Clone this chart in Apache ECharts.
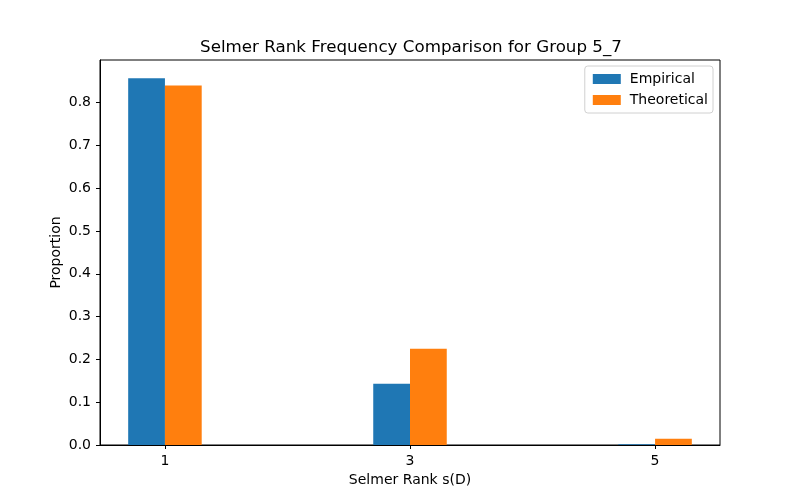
<!DOCTYPE html>
<html>
<head>
<meta charset="utf-8">
<script src="https://cdn.jsdelivr.net/npm/echarts@6/dist/echarts.min.js"></script>
<style>html,body{margin:0;padding:0;background:#fff}#c{width:800px;height:500px}</style>
</head>
<body>
<div id="c"></div>
<script>
const ranks = [1, 3, 5];
const empirical = [0.857, 0.143, 0.0015];
const theoretical = [0.84, 0.225, 0.0145];
const yTicks = [0, 0.1, 0.2, 0.3, 0.4, 0.5, 0.6, 0.7, 0.8];
const barW = 0.3;

const chart = echarts.init(document.getElementById('c'), null, {renderer: 'canvas'});
const font = 'DejaVu Sans';

function barRender(offset, color) {
  return function (params, api) {
    const x = api.value(0), y = api.value(1);
    const p0 = api.coord([x + offset, y]);
    const p1 = api.coord([x + offset + barW, 0]);
    return {
      type: 'rect',
      shape: {x: p0[0], y: p0[1], width: p1[0] - p0[0], height: p1[1] - p0[1]},
      style: {fill: color}
    };
  };
}

chart.setOption({
  animation: false,
  textStyle: {fontFamily: font},
  title: {
    text: 'Selmer Rank Frequency Comparison for Group 5_7',
    left: 406, top: 34, textAlign: 'center',
    textStyle: {fontFamily: font, fontSize: 16.7, fontWeight: 'normal', color: '#000'}
  },
  legend: {
    orient: 'vertical', right: 87, top: 66,
    padding: [6, 5, 6, 8], itemGap: 7, itemWidth: 28, itemHeight: 10,
    borderColor: '#d0d0d0', borderWidth: 1, borderRadius: 3,
    textStyle: {fontFamily: font, fontSize: 14, color: '#000', padding: [0, 0, 0, 4]},
    data: [{name: 'Empirical', icon: 'rect'}, {name: 'Theoretical', icon: 'rect'}]
  },
  grid: {left: 100, right: 80, top: 60, bottom: 55, show: true, borderColor: '#000', borderWidth: 1},
  xAxis: {
    type: 'value', min: 0.47, max: 5.53,
    name: 'Selmer Rank s(D)', nameLocation: 'middle', nameGap: 28,
    nameTextStyle: {fontFamily: font, fontSize: 14, color: '#000'},
    splitLine: {show: false},
    axisLine: {show: true, lineStyle: {color: '#000'}},
    axisTick: {show: true, inside: false, length: 4, lineStyle: {color: '#000'}, customValues: ranks},
    axisLabel: {fontFamily: font, fontSize: 14, color: '#000', margin: 9, customValues: ranks}
  },
  yAxis: {
    type: 'value', min: 0, max: 0.8998,
    name: 'Proportion', nameLocation: 'middle', nameGap: 37, nameRotate: 90,
    nameMoveOverlap: false,
    nameTextStyle: {fontFamily: font, fontSize: 14, color: '#000'},
    splitLine: {show: false},
    axisLine: {show: true, lineStyle: {color: '#000'}},
    axisTick: {show: true, inside: false, length: 4, lineStyle: {color: '#000'}, customValues: yTicks},
    axisLabel: {fontFamily: font, fontSize: 14, color: '#000', margin: 9, customValues: yTicks,
      formatter: v => v.toFixed(1)}
  },
  series: [
    {
      name: 'Empirical', type: 'custom', itemStyle: {color: '#1f77b4'},
      renderItem: barRender(-barW, '#1f77b4'),
      encode: {x: 0, y: 1},
      data: ranks.map((r, i) => [r, empirical[i]])
    },
    {
      name: 'Theoretical', type: 'custom', itemStyle: {color: '#ff7f0e'},
      renderItem: barRender(0, '#ff7f0e'),
      encode: {x: 0, y: 1},
      data: ranks.map((r, i) => [r, theoretical[i]])
    }
  ]
});
</script>
</body>
</html>
